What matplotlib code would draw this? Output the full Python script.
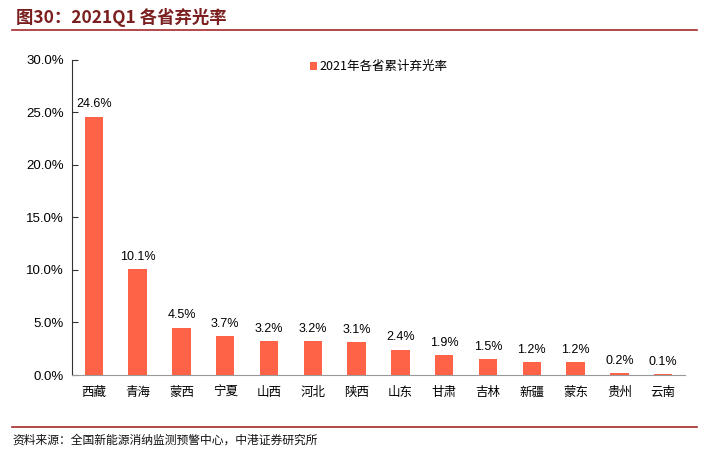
import matplotlib
matplotlib.use("Agg")
import matplotlib.pyplot as plt
from matplotlib.lines import Line2D
from matplotlib.ticker import FuncFormatter

plt.rcParams['font.family'] = ['Noto Sans CJK SC', 'DejaVu Sans']

provinces = ['西藏', '青海', '蒙西', '宁夏', '山西', '河北', '陕西', '山东',
             '甘肃', '吉林', '新疆', '蒙东', '贵州', '云南']
rates = [24.6, 10.1, 4.5, 3.7, 3.2, 3.2, 3.1, 2.4, 1.9, 1.5, 1.2, 1.2, 0.2, 0.1]
series_name = '2021年各省累计弃光率'
title = '图30：2021Q1 各省弃光率'
source = '资料来源：全国新能源消纳监测预警中心，中港证券研究所'

bar_color = '#FF6347'
dark_red = '#7B1E1E'

fig = plt.figure(figsize=(7.17, 4.72), dpi=100)
ax = fig.add_axes([0.1004, 0.2055, 0.855, 0.6675])

x = range(len(provinces))
bars = ax.bar(x, rates, width=0.42, color=bar_color, label=series_name, zorder=2)
for xi, v in zip(x, rates):
    ax.text(xi, v + 0.6, f'{v:.1f}%', ha='center', va='bottom', fontsize=9,
            family=['Liberation Sans', 'DejaVu Sans'])

ax.set_xlim(-0.5, len(provinces) - 0.5)
ax.set_ylim(0, 30)
ax.set_yticks([0, 5, 10, 15, 20, 25, 30])
ax.yaxis.set_major_formatter(FuncFormatter(lambda v, p: f'{v:.1f}%'))
for lab in ax.get_yticklabels():
    lab.set_family(['Liberation Sans', 'DejaVu Sans'])
    lab.set_fontsize(9.5)
ax.set_xticks(list(x))
ax.set_xticklabels(provinces, fontsize=9)
ax.tick_params(axis='x', length=0, pad=8)
ax.tick_params(axis='y', direction='in', length=4, color='#333333', pad=6)
for s in ['top', 'right']:
    ax.spines[s].set_visible(False)
ax.spines['left'].set_color('#333333')
ax.spines['bottom'].set_color('#999999')

leg = ax.legend(loc='upper center', bbox_to_anchor=(0.5, 1.035), frameon=False,
                fontsize=9, handlelength=0.6, handleheight=0.6, handletextpad=0.2)

fig.text(0.022, 0.963, title, fontsize=12.5, fontweight='bold', color=dark_red,
         va='center', ha='left')
fig.add_artist(Line2D([0.017, 0.972], [0.937, 0.937], color='#A52A2A', lw=1.2))
fig.add_artist(Line2D([0.017, 0.972], [0.095, 0.095], color='#A52A2A', lw=1.2))
fig.text(0.017, 0.067, source, fontsize=8.5, style='italic', color='#111111',
         va='center', ha='left')

fig.savefig('out.png', dpi=100)
